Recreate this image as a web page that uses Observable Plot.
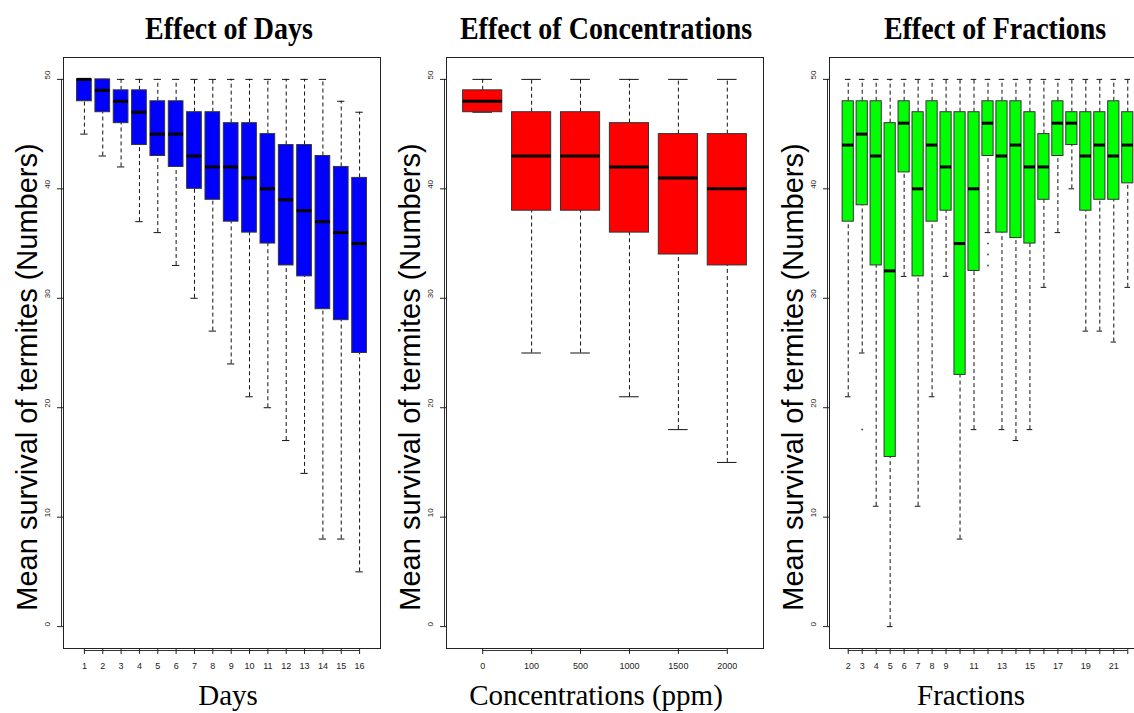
<!DOCTYPE html>
<html>
<head>
<meta charset="utf-8">
<script src="https://cdn.jsdelivr.net/npm/d3@7"></script>
<script src="https://cdn.jsdelivr.net/npm/@observablehq/plot@0.6"></script>
<style>
  html, body { margin: 0; padding: 0; background: #fff; overflow: hidden; }
  #page { position: relative; width: 1134px; height: 713px; overflow: hidden; background: #fff; }
  #page > svg { position: absolute; top: 0; }
</style>
</head>
<body>
<div id="page"></div>
<script>
// ---- Effect of Days: five-number summaries per day ----
const days = ["1","2","3","4","5","6","7","8","9","10","11","12","13","14","15","16"];
const daysLow    = [45,43,42,37,36,33,30,27,24,21,20,17,14, 8, 8, 5];
const daysQ1     = [48,47,46,44,43,42,40,39,37,36,35,33,32,29,28,25];
const daysMedian = [50,49,48,47,45,45,43,42,42,41,40,39,38,37,36,35];
const daysQ3     = [50,50,49,49,48,48,47,47,46,46,45,44,44,43,42,41];
const daysHigh   = [50,50,50,50,50,50,50,50,50,50,50,50,50,50,48,47];

// ---- Effect of Concentrations (ppm) ----
const concentrations = ["0","100","500","1000","1500","2000"];
const concLow    = [47,25,25,21,18,15];
const concQ1     = [47,38,38,36,34,33];
const concMedian = [48,43,43,42,41,40];
const concQ3     = [49,47,47,46,45,45];
const concHigh   = [50,50,50,50,50,50];

// ---- Effect of Fractions ----
const fractions = ["2","3","4","5","6","7","8","9","10","11","12","13","14","15","16","17","18","19","20","21","22"];
const fractionTickLabels = ["2","3","4","5","6","7","8","9","11","13","15","17","19","21"];
const fracLow    = [21,25,11, 0,32,11,21,32, 8,18,36,18,17,18,31,36,40,27,27,26,31];
const fracQ1     = [37,38.5,33,15.5,41.5,32,37,38,23,32.5,43,36,35.5,35,39,43,44,38,39,39,40.5];
const fracMedian = [44,45,43,32.5,46,40,44,42,35,40,46,43,44,42,42,46,46,43,44,43,44];
const fracQ3     = [48,48,48,46,48,47,48,47,47,47,48,48,48,47,45,48,47,47,47,48,47];
const fracHigh   = [50,50,50,50,50,50,50,50,50,50,50,50,50,50,50,50,50,50,50,50,50];
const fracOutlierGroup = ["3","12","12","12"];
const fracOutlierValue = [18, 35, 34, 33];

const yTicks = [0, 10, 20, 30, 40, 50];

const FRAME_W = 317, M_LEFT = 63, M_RIGHT = 10, M_TOP = 57, M_BOTTOM = 65, H = 713;

function boxPanel({labels, low, q1, median, q3, high, fill, tickLabels, outliers = []}) {
  const n = labels.length;
  const rows = labels.map((label, k) => ({
    label, i: k + 1, low: low[k], q1: q1[k], median: median[k], q3: q3[k], high: high[k]
  }));
  const pos = new Map(rows.map(d => [d.label, d.i]));
  const ext = 0.04 * n;
  const shown = new Set(tickLabels ?? labels);
  const half = 0.4, staple = 0.2;
  return Plot.plot({
    width: M_LEFT + FRAME_W + M_RIGHT,
    height: H,
    marginLeft: M_LEFT, marginRight: M_RIGHT, marginTop: M_TOP, marginBottom: M_BOTTOM,
    x: {domain: [0.5 - ext, n + 0.5 + ext], axis: null, label: null},
    y: {domain: [-2, 52], axis: null, label: null},
    style: {background: "none", maxWidth: "none", overflow: "visible", fontFamily: "Liberation Sans, Arial, sans-serif"},
    marks: [
      // whiskers (dashed) and staples
      Plot.ruleX(rows, {x: "i", y1: "q3", y2: "high", stroke: "#111", strokeDasharray: "4,3"}),
      Plot.ruleX(rows, {x: "i", y1: "low", y2: "q1", stroke: "#111", strokeDasharray: "4,3"}),
      Plot.ruleY(rows, {y: "high", x1: d => d.i - staple, x2: d => d.i + staple, stroke: "#111"}),
      Plot.ruleY(rows, {y: "low", x1: d => d.i - staple, x2: d => d.i + staple, stroke: "#111"}),
      // boxes
      Plot.rect(rows, {x1: d => d.i - half, x2: d => d.i + half, y1: "q1", y2: "q3", fill, stroke: "#333", strokeWidth: 1}),
      // medians
      Plot.ruleY(rows, {y: "median", x1: d => d.i - half, x2: d => d.i + half, stroke: "#000", strokeWidth: 3}),
      // outliers
      Plot.dot(outliers, {x: d => pos.get(d.group), y: "value", r: 1, fill: "#555", stroke: null}),
      Plot.frame({stroke: "#222", strokeWidth: 1}),
      // axis lines drawn just outside the frame, spanning the tick range
      Plot.ruleY([-2], {y: d => d, x1: 1, x2: n, dy: 2, stroke: "#333"}),
      Plot.ruleX([0], {x: 0.5 - ext, y1: 0, y2: 50, dx: -2, stroke: "#333"}),
      // x axis
      Plot.axisX({
        ticks: rows.map(d => d.i),
        tickFormat: i => (shown.has(labels[i - 1]) ? labels[i - 1] : ""),
        tickSize: 6, tickPadding: 8, fontSize: 9, label: null, stroke: "#222", color: "#222"
      }),
      // y axis ticks and rotated tick labels
      Plot.axisY({ticks: yTicks, tickFormat: () => "", tickSize: 6, label: null, stroke: "#222"}),
      Plot.text(yTicks, {y: d => d, text: d => String(d), frameAnchor: "left", dx: -16, rotate: -90, fontSize: 8, fill: "#222"})
    ]
  });
}

const page = document.getElementById("page");

const panels = [
  {left: 0, spec: {labels: days, low: daysLow, q1: daysQ1, median: daysMedian, q3: daysQ3, high: daysHigh, fill: "#0000ff"}},
  {left: 446 - M_LEFT, spec: {labels: concentrations, low: concLow, q1: concQ1, median: concMedian, q3: concQ3, high: concHigh, fill: "#ff0000"}},
  {left: 829 - M_LEFT, spec: {labels: fractions, low: fracLow, q1: fracQ1, median: fracMedian, q3: fracQ3, high: fracHigh, fill: "#00ff00",
    tickLabels: fractionTickLabels,
    outliers: fracOutlierGroup.map((g, k) => ({group: g, value: fracOutlierValue[k]}))}}
];

for (const p of panels) {
  const svg = boxPanel(p.spec);
  svg.style.left = p.left + "px";
  page.appendChild(svg);
}

// titles and axis titles
const overlay = d3.select(page).append("svg")
  .attr("width", 1134).attr("height", H)
  .style("left", "0px").style("pointer-events", "none");

const titles = [
  {text: "Effect of Days", x: 229},
  {text: "Effect of Concentrations", x: 606},
  {text: "Effect of Fractions", x: 995}
];
overlay.selectAll("text.title").data(titles).join("text")
  .attr("class", "title")
  .attr("transform", d => `translate(${d.x},39) scale(1,1.15)`)
  .attr("text-anchor", "middle")
  .attr("font-family", "Liberation Serif, Times New Roman, serif")
  .attr("font-weight", "bold")
  .attr("font-size", 28)
  .text(d => d.text);

const xTitles = [
  {text: "Days", x: 228},
  {text: "Concentrations (ppm)", x: 596},
  {text: "Fractions", x: 971}
];
overlay.selectAll("text.xtitle").data(xTitles).join("text")
  .attr("class", "xtitle")
  .attr("x", d => d.x).attr("y", 705)
  .attr("text-anchor", "middle")
  .attr("font-family", "Liberation Serif, Times New Roman, serif")
  .attr("font-size", 29)
  .text(d => d.text);

const yTitleX = [63 - 26, 446 - 26, 829 - 26];
overlay.selectAll("text.ytitle").data(yTitleX).join("text")
  .attr("class", "ytitle")
  .attr("transform", d => `translate(${d},377) rotate(-90)`)
  .attr("text-anchor", "middle")
  .attr("font-family", "Liberation Sans, Arial, sans-serif")
  .attr("font-size", 29)
  .text("Mean survival of termites (Numbers)");
</script>
</body>
</html>
